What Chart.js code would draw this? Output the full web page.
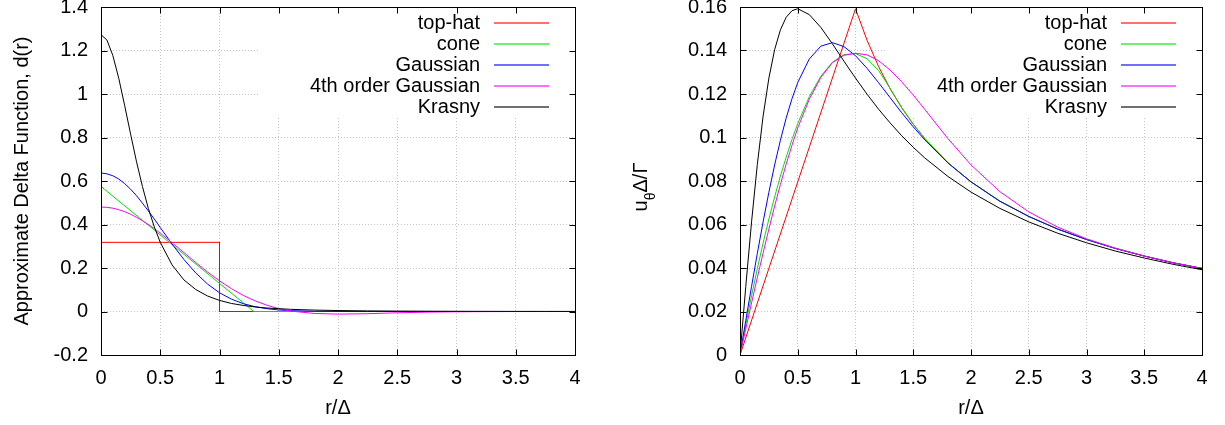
<!DOCTYPE html>
<html>
<head>
<meta charset="utf-8">
<script src="https://cdn.jsdelivr.net/npm/chart.js@4"></script>
<style>
body { margin: 0; background: #fff; }
#wrap { position: relative; width: 1225px; height: 425px; }
canvas { position: absolute; top: 0; }
</style>
</head>
<body>
<div id="wrap">
  <canvas id="deltaChart" width="612" height="425" style="left:0"></canvas>
  <canvas id="velChart" width="613" height="425" style="left:612px"></canvas>
</div>
<script>
// radial positions r/Delta shared by the smooth curves
const rGrid = [0, 0.05, 0.1, 0.15, 0.2, 0.25, 0.3, 0.35, 0.4, 0.45, 0.5, 0.6, 0.7, 0.8, 0.9, 1,
  1.1, 1.2, 1.3, 1.4, 1.5, 1.6, 1.8, 2, 2.25, 2.5, 2.75, 3, 3.25, 3.5, 3.75, 4];

const seriesNames = ['top-hat', 'cone', 'Gaussian', '4th order Gaussian', 'Krasny'];
const seriesColors = ['#ff0000', '#00e000', '#0000ff', '#ff00ff', '#000000'];

// left panel: approximate delta function d(r)
const topHatR = [0, 1, 1, 4];
const deltaTopHat = [0.318, 0.318, 0, 0];
const coneR = [0, 1.29, 4];
const deltaCone = [0.575, 0, 0];
const deltaGauss = [0.637, 0.633, 0.624, 0.609, 0.588, 0.562, 0.532, 0.498, 0.462, 0.425, 0.386,
  0.310, 0.239, 0.177, 0.126, 0.086, 0.057, 0.036, 0.022, 0.013, 0.007, 0.004, 0.001, 0.0002,
  0, 0, 0, 0, 0, 0, 0, 0];
const deltaGauss4 = [0.480, 0.479, 0.475, 0.468, 0.459, 0.447, 0.433, 0.417, 0.400, 0.381, 0.360,
  0.316, 0.271, 0.225, 0.181, 0.141, 0.105, 0.074, 0.049, 0.029, 0.013, 0.002, -0.009, -0.012,
  -0.010, -0.006, -0.003, -0.0013, -0.0005, -0.0002, -0.0001, 0];
const deltaKrasny = [1.273, 1.248, 1.177, 1.072, 0.946, 0.815, 0.688, 0.574, 0.473, 0.389, 0.318,
  0.214, 0.145, 0.101, 0.071, 0.051, 0.037, 0.028, 0.021, 0.016, 0.013, 0.010, 0.0065, 0.0044,
  0.0028, 0.0019, 0.0013, 0.0009, 0.0007, 0.0005, 0.0004, 0.0003];

// right panel: u_theta * Delta / Gamma
const topHatVelR = [0, 1, 1.1, 1.2, 1.3, 1.4, 1.5, 1.6, 1.8, 2, 2.25, 2.5, 2.75, 3, 3.25, 3.5, 3.75, 4];
const velTopHat = [0, 0.1592, 0.1447, 0.1326, 0.1224, 0.1137, 0.1061, 0.0995, 0.0884, 0.0796,
  0.0707, 0.0637, 0.0579, 0.0531, 0.0490, 0.0455, 0.0424, 0.0398];
const coneVelR = [0, 0.05, 0.1, 0.15, 0.2, 0.25, 0.3, 0.35, 0.4, 0.45, 0.5, 0.6, 0.7, 0.8, 0.9, 1,
  1.1, 1.2, 1.29, 1.4, 1.5, 1.6, 1.8, 2, 2.25, 2.5, 2.75, 3, 3.25, 3.5, 3.75, 4];
const velCone = [0, 0.0140, 0.0272, 0.0397, 0.0515, 0.0625, 0.0727, 0.0823, 0.0910, 0.0991, 0.1064,
  0.1188, 0.1282, 0.1346, 0.1381, 0.1386, 0.1362, 0.1308, 0.1234, 0.1137, 0.1061, 0.0995, 0.0884,
  0.0796, 0.0707, 0.0637, 0.0579, 0.0531, 0.0490, 0.0455, 0.0424, 0.0398];
const velGauss = [0, 0.0159, 0.0315, 0.0467, 0.0612, 0.0748, 0.0874, 0.0988, 0.1090, 0.1178, 0.1253,
  0.1361, 0.1420, 0.1436, 0.1418, 0.1376, 0.1318, 0.1252, 0.1183, 0.1114, 0.1049, 0.0989, 0.0883,
  0.0796, 0.0707, 0.0637, 0.0579, 0.0531, 0.0490, 0.0455, 0.0424, 0.0398];
const velGauss4 = [0, 0.0120, 0.0239, 0.0356, 0.0469, 0.0579, 0.0685, 0.0784, 0.0878, 0.0964, 0.1044,
  0.1176, 0.1276, 0.1344, 0.1378, 0.1387, 0.1380, 0.1353, 0.1310, 0.1256, 0.1195, 0.1129, 0.0995,
  0.0874, 0.0751, 0.0658, 0.0588, 0.0534, 0.0491, 0.0455, 0.0424, 0.0398];
const velKrasny = [0, 0.0315, 0.0612, 0.0876, 0.1098, 0.1273, 0.1404, 0.1495, 0.1553, 0.1583, 0.1592,
  0.1565, 0.1506, 0.1431, 0.1351, 0.1273, 0.1199, 0.1130, 0.1067, 0.1008, 0.0955, 0.0906, 0.0821,
  0.0749, 0.0674, 0.0612, 0.0560, 0.0516, 0.0478, 0.0446, 0.0417, 0.0392];

Chart.defaults.font.family = "'Liberation Sans', Arial, sans-serif";
Chart.defaults.font.size = 20;
Chart.defaults.color = '#000';

function pts(xs, ys) {
  return xs.map((x, i) => ({ x: x, y: ys[i] }));
}

function makeDatasets(list) {
  return list.map((d, i) => ({
    label: seriesNames[i],
    data: pts(d[0], d[1]),
    borderColor: seriesColors[i],
    backgroundColor: seriesColors[i],
    borderWidth: 1,
    pointRadius: 0,
    tension: 0,
    fill: false,
    order: list.length - i
  }));
}

// gnuplot look: cleared key box, key drawn inside, black frame with inward ticks
const gnuplotFrame = {
  id: 'gnuplotFrame',
  beforeDatasetsDraw(chart) {
    const a = chart.chartArea;
    const ctx = chart.ctx;
    ctx.save();
    ctx.fillStyle = '#fff';
    ctx.fillRect(a.right - 317, a.top + 1, 316, 110);
    ctx.restore();
  },
  afterDatasetsDraw(chart, args, opts) {
    const a = chart.chartArea;
    const ctx = chart.ctx;
    ctx.save();

    // key
    ctx.font = "20px 'Liberation Sans', Arial, sans-serif";
    ctx.textAlign = 'right';
    ctx.textBaseline = 'middle';
    seriesNames.forEach((name, i) => {
      const y = Math.round(a.top + 16 + 21 * i);
      ctx.fillStyle = '#000';
      ctx.fillText(name, a.right - 95, y);
      ctx.strokeStyle = seriesColors[i];
      ctx.globalAlpha = 0.75;
      ctx.lineWidth = 1.4;
      ctx.beginPath();
      ctx.moveTo(a.right - 81, y);
      ctx.lineTo(a.right - 26, y);
      ctx.stroke();
      ctx.globalAlpha = 1;
    });

    // frame
    ctx.strokeStyle = '#000';
    ctx.lineWidth = 1;
    const L = Math.round(a.left) + 0.5, R = Math.round(a.right) + 0.5;
    const T = Math.round(a.top) + 0.5, B = Math.round(a.bottom) + 0.5;
    ctx.strokeRect(L, T, R - L, B - T);

    // inward ticks on all four sides
    ctx.beginPath();
    chart.scales.x.ticks.forEach(t => {
      const px = Math.round(chart.scales.x.getPixelForValue(t.value)) + 0.5;
      ctx.moveTo(px, B); ctx.lineTo(px, B - 6);
      ctx.moveTo(px, T); ctx.lineTo(px, T + 6);
    });
    chart.scales.y.ticks.forEach(t => {
      const py = Math.round(chart.scales.y.getPixelForValue(t.value)) + 0.5;
      ctx.moveTo(L, py); ctx.lineTo(L + 6, py);
      ctx.moveTo(R, py); ctx.lineTo(R - 6, py);
    });
    ctx.stroke();

    // y title with subscript theta
    if (opts && opts.uTitle) {
      const main = "20px 'Liberation Sans', Arial, sans-serif";
      const sub = "14px 'Liberation Sans', Arial, sans-serif";
      ctx.font = main;
      const w1 = ctx.measureText('u').width;
      const w3 = ctx.measureText('\u0394/\u0393').width;
      ctx.font = sub;
      const w2 = ctx.measureText('\u03b8').width;
      const total = w1 + w2 + w3;
      ctx.translate(opts.uTitle.x, opts.uTitle.y);
      ctx.rotate(-Math.PI / 2);
      ctx.textAlign = 'left';
      ctx.textBaseline = 'alphabetic';
      ctx.fillStyle = '#000';
      let x0 = -total / 2;
      ctx.font = main;
      ctx.fillText('u', x0, 0);
      ctx.font = sub;
      ctx.fillText('\u03b8', x0 + w1, 8);
      ctx.font = main;
      ctx.fillText('\u0394/\u0393', x0 + w1 + w2, 0);
    }
    ctx.restore();
  }
};

function tickLabel(v) {
  return String(+v.toFixed(3));
}

function makeConfig(datasets, yMin, yMax, yStep, yAxisWidth, yTitle, padRight, uTitle) {
  return {
    type: 'line',
    data: { datasets: datasets },
    options: {
      responsive: false,
      animation: false,
      devicePixelRatio: 1,
      layout: { padding: { left: yTitle ? 6 : 0, right: padRight, top: 7, bottom: 1 } },
      plugins: {
        legend: { display: false },
        tooltip: { enabled: false },
        gnuplotFrame: { uTitle: uTitle }
      },
      scales: {
        x: {
          type: 'linear',
          min: 0,
          max: 4,
          ticks: { stepSize: 0.5, padding: 11, callback: tickLabel, maxRotation: 0 },
          grid: { color: '#c4c4c4', drawTicks: false },
          border: { display: false, dash: [1, 2] },
          title: { display: true, text: 'r/\u0394', padding: { top: 4, bottom: 4 } },
          afterFit: s => { s.height = 69; s.paddingLeft = 0; s.paddingRight = 0; }
        },
        y: {
          min: yMin,
          max: yMax,
          ticks: { stepSize: yStep, padding: 13, callback: tickLabel },
          grid: { color: '#c4c4c4', drawTicks: false },
          border: { display: false, dash: [1, 2] },
          title: { display: !!yTitle, text: yTitle || '', padding: { top: 4, bottom: 4 } },
          afterFit: s => { s.width = yAxisWidth; s.paddingTop = 0; s.paddingBottom = 0; }
        }
      }
    },
    plugins: [gnuplotFrame]
  };
}

let deltaChart;
let velChart;

function drawCharts() {
  const deltaSets = makeDatasets([
    [topHatR, deltaTopHat],
    [coneR, deltaCone],
    [rGrid, deltaGauss],
    [rGrid, deltaGauss4],
    [rGrid, deltaKrasny]
  ]);
  const velSets = makeDatasets([
    [topHatVelR, velTopHat],
    [coneVelR, velCone],
    [rGrid, velGauss],
    [rGrid, velGauss4],
    [rGrid, velKrasny]
  ]);

  deltaChart = new Chart(document.getElementById('deltaChart').getContext('2d'),
    makeConfig(deltaSets, -0.2, 1.4, 0.2, 95, 'Approximate Delta Function, d(r)', 37, null));
  velChart = new Chart(document.getElementById('velChart').getContext('2d'),
    makeConfig(velSets, 0, 0.16, 0.02, 128, null, 23, { x: 35, y: 187 }));
}

drawCharts();
</script>
</body>
</html>
